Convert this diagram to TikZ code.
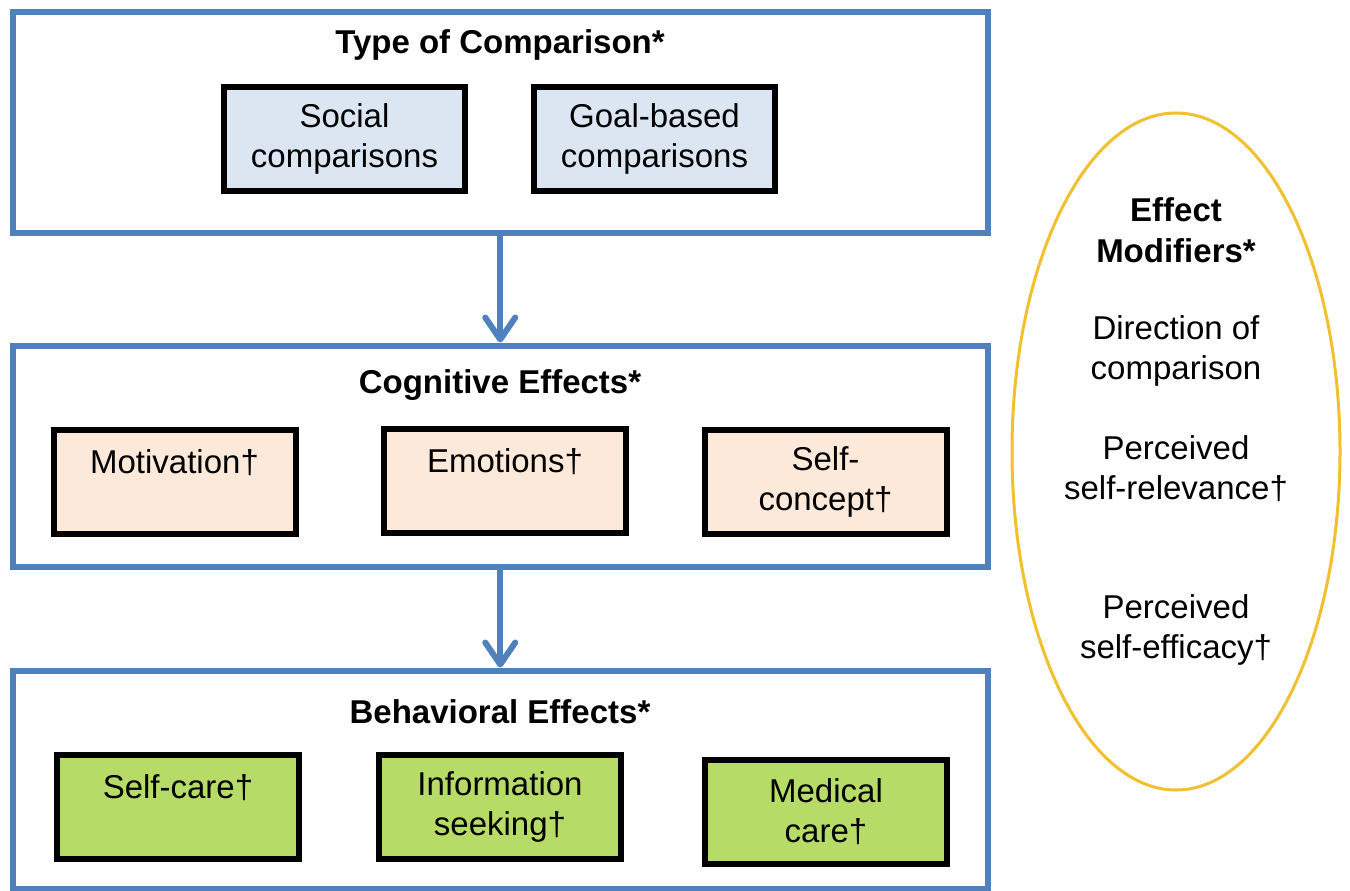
\documentclass[tikz,border=0pt]{standalone}
\usepackage{fontspec}
\setmainfont{Liberation Sans}
\usetikzlibrary{arrows.meta,shapes.geometric}
\definecolor{frameblue}{RGB}{79,129,189}
\definecolor{fillblue}{RGB}{220,230,242}
\definecolor{fillpeach}{RGB}{253,233,217}
\definecolor{fillgreen}{RGB}{182,219,102}
\definecolor{ellyellow}{RGB}{242,192,46}
\tikzset{
  outerbox/.style={draw=frameblue, line width=6pt, fill=white, rectangle, inner sep=0pt},
  itembox/.style={draw=black, line width=6pt, rectangle, minimum width=242pt, minimum height=104pt,
    align=center, inner sep=0pt, font=\fontsize{33}{40}\selectfont},
  titletext/.style={font=\fontsize{33}{40}\selectfont\bfseries, anchor=base, inner sep=0pt},
  elltext/.style={font=\fontsize{33}{40}\selectfont, align=center, anchor=base, inner sep=0pt},
  flowarrow/.style={draw=frameblue, line width=6pt,
    -{Straight Barb[length=22pt,width=30pt,line cap=round,line join=round]}},
}
\begin{document}
\begin{tikzpicture}[x=1pt,y=-1pt]
\useasboundingbox (0,0) rectangle (1350,891);
% outer frames
\node[outerbox, minimum width=975.5pt, minimum height=220pt] (typebox) at (500.25,122.5) {};
\node[outerbox, minimum width=975.5pt, minimum height=221pt] (cogbox) at (500.25,456) {};
\node[outerbox, minimum width=975.5pt, minimum height=218pt] (behbox) at (500.25,779.5) {};
% titles
\node[titletext] (typetitle) at (500,54) {Type of Comparison*};
\node[titletext] (cogtitle) at (500,393) {Cognitive Effects*};
\node[titletext] (behtitle) at (500,723) {Behavioral Effects*};
% top items
\node[itembox, fill=fillblue, minimum width=241pt] (social) at (344.5,139) {Social\\comparisons};
\node[itembox, fill=fillblue, minimum width=241pt] (goal) at (654.5,139) {Goal-based\\comparisons};
% cognitive items
\node[itembox, fill=fillpeach] (motiv) at (174.5,482) {Motivation†\\\phantom{M}};
\node[itembox, fill=fillpeach] (emot) at (505,481) {Emotions†\\\phantom{M}};
\node[itembox, fill=fillpeach] (selfc) at (825.5,482) {Self-\\concept†};
% behavioral items
\node[itembox, fill=fillgreen] (selfcare) at (178,806.5) {Self-care†\\\phantom{M}};
\node[itembox, fill=fillgreen] (info) at (500,806.5) {Information\\seeking†};
\node[itembox, fill=fillgreen] (medical) at (826,812) {Medical\\care†};
% arrows
\draw[flowarrow] (typebox.south) -- (cogbox.north);
\draw[flowarrow] (cogbox.south) -- (behbox.north);
% ellipse
\node[ellipse, draw=ellyellow, line width=3pt, fill=white, minimum width=328pt, minimum height=677pt, inner sep=0pt] (modifiers) at (1176,451.5) {};
\node[elltext, font=\fontsize{33}{41}\selectfont\bfseries] (modtitle) at (1176,262) {Effect\\Modifiers*};
\node[elltext] (direction) at (1176,379) {Direction of\\comparison};
\node[elltext] (relevance) at (1176,499) {Perceived\\self-relevance†};
\node[elltext] (efficacy) at (1176,658) {Perceived\\self-efficacy†};
\end{tikzpicture}
\end{document}
